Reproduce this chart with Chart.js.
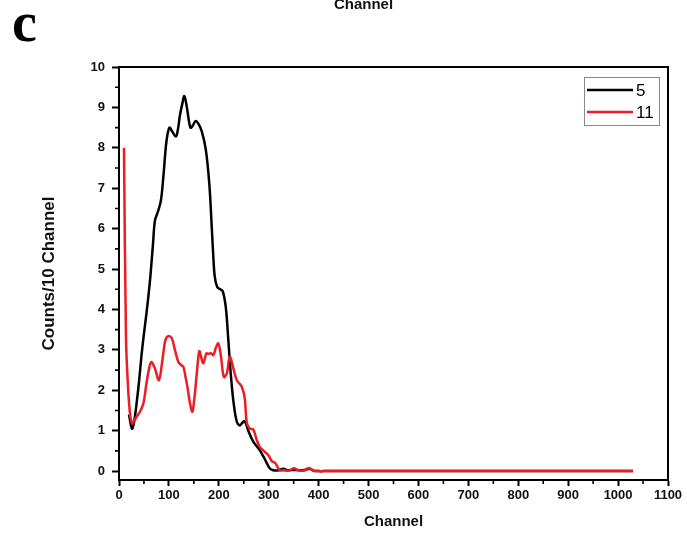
<!DOCTYPE html>
<html>
<head>
<meta charset="utf-8">
<script src="https://cdn.jsdelivr.net/npm/chart.js@4.4.1/dist/chart.umd.min.js"></script>
<style>
  html, body { margin: 0; padding: 0; background: #fff; }
  #wrap { position: relative; width: 687px; height: 538px; overflow: hidden; }
  #chart { position: absolute; left: 0; top: 0; }
  #panel { position: absolute; left: 12px; top: -10px; font-family: "Liberation Serif", serif; font-weight: bold; font-size: 56px; color: #000; }
  #prevTitle { position: absolute; left: 0; width: 727px; text-align: center; top: -5px; font-family: "Liberation Sans", Arial, sans-serif; font-weight: bold; font-size: 15px; color: #111; }
</style>
</head>
<body>
<div id="wrap">
  <canvas id="chart" width="687" height="538"></canvas>
  <div id="prevTitle">Channel</div>
  <div id="panel">c</div>
</div>
<script>
// ---- data ----
const seriesNames = ["5", "11"];
const channels5 = [20, 26, 30, 35, 40, 45, 49, 55, 62, 68, 72, 78, 84, 89, 95, 101, 107, 114, 118, 122, 127, 131, 136, 143, 148, 153, 159, 166, 174, 181, 186, 189, 192, 197, 203, 208, 214, 219, 224, 229, 236, 242, 246, 251, 255, 259, 269, 282, 292, 302, 309, 320, 330, 338, 350, 360, 372, 382, 390, 400, 410, 1030];
const counts5   = [1.4, 1.05, 1.2, 1.65, 2.2, 2.85, 3.3, 3.9, 4.7, 5.6, 6.2, 6.42, 6.7, 7.3, 8.15, 8.5, 8.4, 8.28, 8.45, 8.8, 9.1, 9.28, 9.0, 8.5, 8.55, 8.66, 8.6, 8.4, 7.95, 7.1, 6.0, 5.3, 4.8, 4.55, 4.5, 4.45, 4.05, 3.25, 2.4, 1.75, 1.22, 1.13, 1.18, 1.24, 1.15, 1.0, 0.73, 0.52, 0.3, 0.07, 0.02, 0.02, 0.06, 0.02, 0.03, 0.02, 0.03, 0.06, 0.01, 0, 0, 0];
const channels11 = [10, 14, 18, 22, 26, 29, 35, 42, 49, 55, 61, 65, 72, 80, 87, 93, 99, 106, 112, 119, 124, 129, 133, 137, 142, 147, 151, 155, 158, 161, 165, 169, 175, 179, 184, 189, 194, 199, 204, 210, 216, 222, 229, 236, 246, 252, 256, 262, 269, 276, 282, 290, 299, 306, 313, 322, 330, 340, 350, 360, 370, 380, 390, 400, 410, 1030];
const counts11   = [8.0, 3.3, 2.1, 1.43, 1.18, 1.22, 1.34, 1.47, 1.68, 2.17, 2.58, 2.7, 2.54, 2.25, 2.75, 3.24, 3.34, 3.28, 3.0, 2.7, 2.63, 2.58, 2.35, 2.09, 1.7, 1.47, 1.8, 2.3, 2.7, 2.97, 2.8, 2.67, 2.91, 2.9, 2.92, 2.87, 3.05, 3.16, 2.87, 2.33, 2.42, 2.83, 2.55, 2.25, 2.09, 1.8, 1.2, 1.05, 1.03, 0.77, 0.6, 0.5, 0.4, 0.25, 0.2, 0.02, 0.02, 0.01, 0.07, 0.02, 0.01, 0.08, 0.01, 0, 0, 0];
const xMajorTicks = [0, 100, 200, 300, 400, 500, 600, 700, 800, 900, 1000, 1100];
const xMinorTicks = [50, 150, 250, 350, 450, 550, 650, 750, 850, 950, 1050];
const yMajorTicks = [0, 1, 2, 3, 4, 5, 6, 7, 8, 9, 10];
const yMinorTicks = [0.5, 1.5, 2.5, 3.5, 4.5, 5.5, 6.5, 7.5, 8.5, 9.5];
const xTitle = "Channel";
const yTitle = "Counts/10 Channel";

const toPts = (xs, ys) => xs.map((x, i) => ({ x: x, y: ys[i] }));

const tickFont = { family: "'Liberation Sans', Arial, sans-serif", size: 13, weight: "bold" };
const xTitleFont = { family: "'Liberation Sans', Arial, sans-serif", size: 15, weight: "bold" };
const yTitleFont = { family: "'Liberation Sans', Arial, sans-serif", size: 17, weight: "bold" };

const framePlugin = {
  id: "frame",
  afterDraw(chart) {
    const ctx = chart.ctx;
    const a = chart.chartArea;
    const xs = chart.scales.x, ys = chart.scales.y;
    ctx.save();
    ctx.strokeStyle = "#000";
    ctx.lineWidth = 2;
    ctx.beginPath();
    ctx.moveTo(a.left, a.top); ctx.lineTo(a.right, a.top); ctx.lineTo(a.right, a.bottom);
    ctx.stroke();
    ctx.lineWidth = 1.6;
    ctx.beginPath();
    xMinorTicks.forEach(v => { const p = xs.getPixelForValue(v); ctx.moveTo(p, a.bottom); ctx.lineTo(p, a.bottom + 4); });
    yMinorTicks.forEach(v => { const p = ys.getPixelForValue(v); ctx.moveTo(a.left, p); ctx.lineTo(a.left - 4, p); });
    ctx.stroke();
    // legend
    const lx = 584, ly = 77, lw = 75, lh = 48;
    ctx.fillStyle = "#fff";
    ctx.fillRect(lx, ly, lw, lh);
    ctx.strokeStyle = "#888";
    ctx.lineWidth = 1;
    ctx.strokeRect(lx + 0.5, ly + 0.5, lw, lh);
    ctx.font = "17px 'Liberation Sans', Arial, sans-serif";
    ctx.textBaseline = "middle";
    ctx.textAlign = "left";
    chart.data.datasets.forEach((ds, i) => {
      const yy = ly + 13 + i * 22;
      ctx.strokeStyle = ds.borderColor;
      ctx.lineWidth = 2.5;
      ctx.beginPath(); ctx.moveTo(lx + 3, yy); ctx.lineTo(lx + 49, yy); ctx.stroke();
      ctx.fillStyle = "#000";
      ctx.fillText(ds.label, lx + 52, yy + 1);
    });
    ctx.restore();
  }
};

new Chart(document.getElementById("chart"), {
  type: "line",
  data: {
    datasets: [
      { label: seriesNames[0], data: toPts(channels5, counts5), borderColor: "#000000", borderWidth: 2.5, pointRadius: 0, tension: 0.35, order: 1, fill: false },
      { label: seriesNames[1], data: toPts(channels11, counts11), borderColor: "#ee1c24", borderWidth: 2.5, pointRadius: 0, tension: 0.35, order: 0, fill: false }
    ]
  },
  options: {
    responsive: false,
    animation: false,
    devicePixelRatio: 1,
    layout: { padding: { left: 0, top: 67, right: 19, bottom: 0 } },
    plugins: { legend: { display: false }, tooltip: { enabled: false } },
    scales: {
      x: {
        type: "linear", min: 0, max: 1100,
        afterBuildTicks: s => { s.ticks = xMajorTicks.map(v => ({ value: v })); },
        afterFit: s => { s.height = 58; },
        ticks: { color: "#111", font: tickFont, padding: 2, maxRotation: 0, autoSkip: false, callback: v => String(v) },
        grid: { drawOnChartArea: false, drawTicks: true, tickLength: 6, tickColor: "#000", tickWidth: 2 },
        border: { display: true, color: "#000", width: 2 },
        title: { display: true, text: xTitle, color: "#111", font: xTitleFont, padding: { top: 0, bottom: 7 } }
      },
      y: {
        type: "linear", min: -0.22, max: 10,
        afterBuildTicks: s => { s.ticks = yMajorTicks.map(v => ({ value: v })); },
        afterFit: s => { s.width = 119; },
        ticks: { color: "#111", font: tickFont, padding: 7, autoSkip: false, callback: v => String(v) },
        grid: { drawOnChartArea: false, drawTicks: true, tickLength: 7, tickColor: "#000", tickWidth: 2 },
        border: { display: true, color: "#000", width: 2 },
        title: { display: true, text: yTitle, color: "#111", font: yTitleFont, padding: { top: 39, bottom: 0 } }
      }
    }
  },
  plugins: [framePlugin]
});
</script>
</body>
</html>
